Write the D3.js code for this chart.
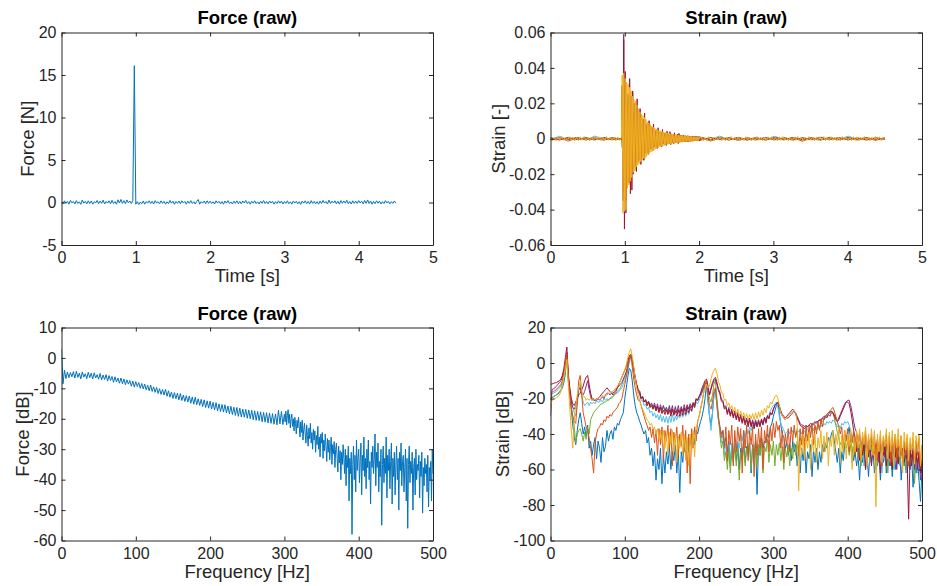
<!DOCTYPE html>
<html>
<head>
<meta charset="utf-8">
<script src="https://cdn.jsdelivr.net/npm/d3@7"></script>
<style>
body { margin: 0; background: #fff; }
text { font-family: "Liberation Sans", Arial, Helvetica, sans-serif; }
</style>
</head>
<body>
<div id="svg_container"></div>
<script>
/* -----------------------
main variables
------------------------- */

var width = 937;
var height = 586;
var axisColor = '#262626';
var tickLen = 4;

var panels = {
	forceTime:  {x: 61.5,  y: 32.5,  w: 371.5, h: 212.5, titleGap: 9},
	strainTime: {x: 550.5, y: 32.5,  w: 371.5, h: 212.5, titleGap: 9},
	forceSpec:  {x: 61.5,  y: 327.5, w: 371.5, h: 213,   titleGap: 7.5},
	strainSpec: {x: 550.5, y: 327.5, w: 371.5, h: 213,   titleGap: 7.5}
};

/* -----------------------
data : ticks
------------------------- */

var timeTicks = [0, 1, 2, 3, 4, 5];
var freqTicks = [0, 100, 200, 300, 400, 500];
var forceTicks = [-5, 0, 5, 10, 15, 20];
var strainTicks = [-0.06, -0.04, -0.02, 0, 0.02, 0.04, 0.06];
var forceDbTicks = [-60, -50, -40, -30, -20, -10, 0, 10];
var strainDbTicks = [-100, -80, -60, -40, -20, 0, 20];

/* -----------------------
data : force, time domain (step 0.02 s)
------------------------- */

var forceTimeStep = 0.02;
var forceTime = [
	0.1, -0.15, 0.2, -0.1, 0.15, -0.2, 0.25, -0.05, 0.12, -0.18,
	0.22, -0.1, 0.08, -0.22, 0.3, -0.08, 0.14, -0.16, 0.2, -0.12,
	0.18, -0.2, 0.1, -0.05, 0.24, -0.14, 0.16, -0.1, 0.28, -0.18,
	0.12, -0.08, 0.2, -0.16, 0.26, -0.12, 0.1, -0.2, 0.32, -0.06,
	0.36, -0.1, 0.22, -0.14, 0.3, -0.04, 0.18, -0.12, 0.25, 16.1,
	-0.2, 0.1, -0.25, 0.05, -0.15, 0.18, -0.2, 0.12, -0.08, 0.2,
	-0.12, 0.15, -0.18, 0.22, -0.06, 0.1, -0.16, 0.2, -0.1, 0.14,
	-0.2, 0.08, -0.14, 0.24, -0.08, 0.16, -0.22, 0.12, -0.1, 0.18,
	-0.15, 0.2, -0.06, 0.12, -0.2, 0.16, -0.1, 0.22, -0.12, 0.1,
	-0.18, 0.14, 0.35, -0.2, 0.1, -0.08, 0.18, -0.14, 0.2, -0.1,
	0.16, -0.12, 0.08, -0.18, 0.2, -0.06, 0.14, -0.16, 0.1, -0.2,
	0.18, -0.08, 0.22, -0.12, 0.06, -0.18, 0.16, -0.1, 0.2, -0.14,
	0.12, -0.16, 0.18, -0.06, 0.24, -0.12, 0.1, -0.2, 0.14, -0.08,
	0.2, -0.14, 0.08, -0.18, 0.16, -0.1, 0.22, -0.12, 0.12, -0.16,
	0.18, -0.06, 0.14, -0.2, 0.1, -0.12, 0.2, -0.08, 0.16, -0.18,
	0.12, -0.1, 0.2, -0.14, 0.08, -0.2, 0.18, -0.06, 0.14, -0.16,
	0.1, -0.22, 0.16, -0.08, 0.2, -0.12, 0.12, -0.18, 0.22, -0.1,
	0.14, -0.16, 0.1, -0.2, 0.18, -0.12, 0.24, -0.08, 0.12, -0.18,
	0.28, -0.12, 0.16, -0.06, 0.2, -0.16, 0.14, -0.2, 0.22, -0.1,
	0.18, -0.08, 0.26, -0.14, 0.12, -0.18, 0.2, -0.1, 0.16, -0.12,
	0.22, -0.06, 0.14, -0.16, 0.24, -0.1, 0.3, -0.12, 0.18, -0.2,
	0.12, -0.14, 0.2, -0.08, 0.16, -0.18, 0.1, -0.12, 0.22, -0.06,
	0.14, -0.16, 0.1, -0.1, 0.18, -0.08
];

/* -----------------------
data : force spectrum in dB
0 - 300 Hz every 2 Hz, 300 - 500 Hz every 1 Hz
------------------------- */

var forceSpecLow = [
	3, -8.5, -4, -6.8, -4.6, -6.5, -4.8, -6.2, -4.5, -6.6,
	-4.4, -6.4, -5, -6.9, -4.6, -6.3, -5.2, -6.8, -4.7, -6.5,
	-5, -6.9, -4.9, -6.6, -5.5, -7, -5.1, -7.2, -5.6, -7.1,
	-5.5, -7.6, -5.8, -7.4, -6.1, -8, -6.2, -7.9, -6.6, -8.3,
	-6.6, -8.5, -6.9, -8.8, -7.2, -8.6, -7.4, -9.3, -7.6, -9.6,
	-7.8, -9.4, -8.1, -10, -8.4, -10.2, -8.6, -10.5, -9, -10.8,
	-8.9, -11, -9.5, -11.3, -9.7, -11.7, -10.1, -12, -10.4, -12.2,
	-10.3, -12.6, -10.8, -12.9, -11.2, -13.3, -11.4, -13.4, -11.6, -13.8,
	-11.7, -14, -12.2, -14.3, -12.4, -14.5, -12.5, -14.9, -12.8, -15.2,
	-12.9, -15.4, -13.4, -15.6, -13.6, -16, -13.8, -16.3, -14.1, -16.5,
	-14.2, -16.8, -14.6, -17.1, -14.7, -17.4, -15.1, -17.6, -15.3, -17.8,
	-15.4, -18.1, -15.8, -18.4, -15.9, -18.6, -16.2, -18.9, -16.3, -19.2,
	-16.5, -19.4, -16.8, -19.5, -16.9, -19.8, -17.1, -20, -17.2, -20.3,
	-17.4, -20.5, -17.6, -20.6, -17.7, -21, -17.9, -21.1, -18, -21.4,
	-18.1, -21.5, -18.3, -21.8, -18.4, -22, -17.2, -21.7, -17.6, -21.9,
	-18.5
];
var forceSpecHigh = [
	-18.5, -21, -17.5, -22, -19, -17, -21.5, -18.5, -23, -20,
	-18.5, -22.5, -20, -24, -19.5, -21.5, -25, -20.5, -23, -19.5,
	-22.5, -26, -21, -24.5, -20.5, -27, -23.5, -21.5, -25, -28,
	-22, -25.5, -29, -23, -26.5, -21.5, -28, -24.5, -30, -23.5,
	-27, -24, -31, -25.5, -28.5, -22.5, -30, -26, -32.5, -25,
	-28, -24.5, -33, -27, -30.5, -25, -29, -34, -26.5, -31,
	-27, -33.5, -29.5, -26, -35, -28.5, -31.5, -27.5, -36, -30,
	-28, -33, -37.5, -29, -34.5, -30.5, -40, -31, -35, -28.5,
	-33, -38, -30, -42, -32, -36, -29, -47, -33, -38,
	-31, -58, -35, -29, -40, -32, -44, -27, -37, -33,
	-30, -41, -34, -28, -45, -32, -37, -26, -39, -33,
	-43, -30, -36, -27, -40, -34, -48, -31, -36, -29,
	-38, -33, -25, -42, -31, -36, -28, -44, -34, -39,
	-30, -55, -35, -29, -41, -33, -38, -26, -46, -32,
	-37, -30, -43, -34, -28, -48, -33, -39, -31, -45,
	-35, -29, -40, -33, -50, -31, -37, -28, -42, -34,
	-32, -44, -36, -30, -47, -33, -56, -35, -29, -41,
	-34, -38, -31, -50, -36, -33, -45, -30, -40, -35,
	-37, -32, -46, -34, -39, -31, -51, -36, -42, -33,
	-38, -35, -44, -32, -49, -36, -40, -34, -47, -30,
	-38
];

/* -----------------------
data : strain, time domain
before impact (0 - 0.955 s), ringing (0.965 - 2 s), after (2.03 - 4.5 s)
------------------------- */

var blueBefore = [0.0005, -0.0004, 0.0006, -0.0005, 0.0003, -0.0006, 0.0005, -0.0004, 0.0002];
var blueRing = [0.025, -0.03, 0.022, -0.02, 0.018, -0.016, 0.014, -0.012, 0.011, -0.009, 0.008, -0.007, 0.0065, -0.0055, 0.005, -0.0045, 0.004, -0.0035, 0.0032, -0.003, 0.0028, -0.0026, 0.0024, -0.0022, 0.002, -0.0019, 0.0018, -0.0017, 0.0016, -0.0015, 0.0014, -0.0013, 0.0012, -0.0011, 0.001];
var blueAfter = [0.0006, -0.0005, 0.0004, -0.0007, 0.0005, -0.0004, 0.0005, -0.0006, 0.0004, -0.0005, 0.0007, -0.0004, 0.0005, -0.0006, 0.0003, -0.0005, 0.0006, -0.0004, 0.0005, -0.0005, 0.0003];

var lightblueBefore = [-0.0005, 0.0014, -0.0006, 0.0005, -0.0007, 0.0015, -0.0004, 0.0006, -0.0003];
var lightblueRing = [0.02, -0.025, 0.02, -0.018, 0.016, -0.014, 0.012, -0.011, 0.01, -0.008, 0.007, -0.0065, 0.006, -0.005, 0.0045, -0.004, 0.0036, -0.0033, 0.003, -0.0028, 0.0026, -0.0024, 0.0022, -0.0021, 0.002, -0.0018, 0.0017, -0.0016, 0.0015, -0.0014, 0.0013, -0.0012, 0.0012, -0.0011, 0.001];
var lightblueAfter = [0.0006, -0.0005, 0.0015, -0.0004, 0.0006, -0.0007, 0.0005, -0.0005, 0.0014, -0.0006, 0.0005, -0.0004, 0.0006, -0.0007, 0.0005, -0.0005, 0.0015, -0.0004, 0.0006, -0.0006, 0.0004];

var greenBefore = [0.0004, -0.0005, 0.0004, -0.0003, 0.0006, -0.0005, 0.0003, -0.0004, -0.0002];
var greenRing = [-0.005, 0.028, -0.026, 0.021, -0.018, 0.015, -0.013, 0.011, -0.01, 0.0085, -0.0075, 0.0065, -0.006, 0.005, -0.0045, 0.004, -0.0036, 0.0032, -0.003, 0.0027, -0.0025, 0.0023, -0.0021, 0.002, -0.0019, 0.0018, -0.0017, 0.0016, -0.0015, 0.0014, -0.0013, 0.0012, -0.0012, 0.0011, -0.001];
var greenAfter = [-0.0005, 0.0006, -0.0004, 0.0006, -0.0005, 0.0004, -0.0007, 0.0005, -0.0004, 0.0006, -0.0006, 0.0004, -0.0005, 0.0006, -0.0004, 0.0005, -0.0005, 0.0004, -0.0006, 0.0005, -0.0003];

var purpleBefore = [0.0005, -0.0007, 0.0006, -0.0004, 0.0006, -0.0005, 0.0007, -0.0005, 0.0003];
var purpleRing = [
	0.03, -0.035, 0.059, -0.04, 0.03, -0.042, 0.025, -0.02, 0.022, -0.025,
	0.026, -0.026, 0.024, -0.02, 0.026, -0.02, 0.02, -0.016, 0.019, -0.018,
	0.018, -0.013, 0.013, -0.012, 0.014, -0.012, 0.011, -0.01, 0.011, -0.01,
	0.011, -0.008, 0.008, -0.007, 0.008, -0.007, 0.008, -0.006, 0.006, -0.0055,
	0.006, -0.0055, 0.0065, -0.0045, 0.0045, -0.004, 0.0045, -0.0042, 0.005, -0.0035,
	0.0035, -0.0032, 0.0034, -0.0034, 0.004, -0.003, 0.003, -0.0028, 0.003, -0.003,
	0.0033, -0.0025, 0.0025, -0.0024, 0.003, -0.0026, 0.0022, -0.0022, 0.0022, -0.0023,
	0.0027, -0.002, 0.002, -0.002, 0.0021, -0.002, 0.0023, -0.0018, 0.0018, -0.0017,
	0.0017, -0.0017, 0.0018, -0.0016, 0.0016, -0.0015, 0.0015, -0.0015, 0.0016, -0.0014,
	0.0014, -0.0014, 0.0014, -0.0013, 0.0014, -0.0013, 0.0013, -0.0012, 0.0012, -0.0012,
	0.0012, -0.0011, 0.0011, -0.001
];
var purpleAfter = [-0.0006, 0.0007, -0.0005, 0.0006, -0.0008, 0.0005, -0.0004, 0.0007, -0.0006, 0.0005, -0.0007, 0.0006, -0.0005, 0.0008, -0.0004, 0.0006, -0.0006, 0.0005, -0.0007, 0.0005, -0.0003];

var redBefore = [-0.0005, 0.0006, -0.0004, 0.0007, -0.0006, 0.0005, -0.0007, 0.0005, -0.0003];
var redRing = [
	0.02, -0.03, 0.056, -0.051, 0.038, -0.035, 0.02, -0.02, 0.025, -0.024,
	0.034, -0.031, 0.02, -0.029, 0.027, -0.015, 0.015, -0.014, 0.017, -0.0185,
	0.0225, -0.012, 0.012, -0.011, 0.017, -0.0145, 0.01, -0.009, 0.011, -0.0122,
	0.0145, -0.008, 0.008, -0.007, 0.0085, -0.0088, 0.0102, -0.006, 0.006, -0.0055,
	0.0065, -0.0068, 0.0082, -0.0045, 0.0045, -0.0042, 0.0048, -0.0055, 0.0062, -0.0035,
	0.0035, -0.0033, 0.0037, -0.0045, 0.0052, -0.003, 0.003, -0.0028, 0.0032, -0.0038,
	0.0043, -0.0025, 0.0025, -0.0024, 0.004, -0.0033, 0.0022, -0.0022, 0.0024, -0.003,
	0.0034, -0.002, 0.002, -0.002, 0.0025, -0.0027, 0.003, -0.0018, 0.0018, -0.0017,
	0.0017, -0.0017, 0.0019, -0.0016, 0.0016, -0.0015, 0.0015, -0.0016, 0.0017, -0.0015,
	0.0014, -0.0014, 0.0014, -0.0013, 0.0015, -0.0013, 0.0013, -0.0012, 0.0012, -0.0012,
	0.0013, -0.0011, 0.0011, -0.001
];
var redAfter = [0.0006, -0.0005, 0.0007, -0.0004, 0.0006, -0.0007, 0.0005, -0.0006, 0.0007, -0.0004, 0.0006, -0.0007, 0.0005, -0.0006, 0.0007, -0.0005, 0.0006, -0.0004, 0.0007, -0.0006, 0.0004];

var orangeBefore = [-0.0006, 0.0005, -0.0013, 0.0004, -0.0005, 0.0006, -0.0005, 0.0004, -0.0002];
var orangeRing = [0.03, -0.034, 0.026, -0.022, 0.02, -0.017, 0.015, -0.013, 0.012, -0.01, 0.009, -0.008, 0.007, -0.006, 0.0055, -0.005, 0.0045, -0.004, 0.0036, -0.0033, 0.003, -0.0027, 0.0025, -0.0023, 0.0021, -0.002, 0.0019, -0.0018, 0.0017, -0.0016, 0.0015, -0.0014, 0.0013, -0.0012, 0.0011];
var orangeAfter = [0.0005, -0.0013, 0.0005, -0.0006, 0.0007, -0.0004, 0.0006, -0.0007, 0.0005, -0.0006, 0.0005, -0.0014, 0.0006, -0.0005, 0.0007, -0.0006, 0.0004, -0.0007, 0.0005, -0.0008, 0.0003];

var yellowBefore = [
	0.0009, -0.0011, 0.0007, -0.0012, 0.001, -0.0008, 0.0013, -0.0009, 0.0008, -0.0011,
	0.0012, -0.0007, 0.001, -0.0012, 0.0009, -0.001, 0.0011, -0.0008, 0.0013, -0.0011,
	0.0008, -0.0012, 0.001, -0.0009, 0.0012, -0.0007, 0.0011, -0.0012, 0.0009, -0.001,
	0.0013, -0.0008, 0.001, -0.0011, 0.0008, -0.0012, 0.0011, -0.0009, 0.0005
];
var yellowRing = [
	0.036, -0.042, 0.037, -0.041, 0.034, -0.04, 0.032, -0.028, 0.031, -0.026,
	0.029, -0.024, 0.027, -0.022, 0.024, -0.019, 0.022, -0.018, 0.021, -0.016,
	0.019, -0.015, 0.017, -0.014, 0.015, -0.013, 0.014, -0.012, 0.013, -0.011,
	0.012, -0.011, 0.011, -0.01, 0.0095, -0.009, 0.0088, -0.0082, 0.008, -0.0075,
	0.0072, -0.007, 0.0066, -0.0064, 0.006, -0.0058, 0.0055, -0.0054, 0.0051, -0.005,
	0.0047, -0.0046, 0.0044, -0.0042, 0.0041, -0.004, 0.0038, -0.0037, 0.0036, -0.0034,
	0.0034, -0.0032, 0.0032, -0.003, 0.003, -0.0029, 0.0028, -0.0027, 0.0027, -0.0026,
	0.0025, -0.0024, 0.0024, -0.0023, 0.0023, -0.0022, 0.0021, -0.0021, 0.002, -0.002,
	0.0019, -0.0019, 0.0018, -0.0018, 0.0017, -0.0017, 0.0016, -0.0016, 0.0016, -0.0015,
	0.0015, -0.0015, 0.0014, -0.0014, 0.0014, -0.0013, 0.0013, -0.0013, 0.0012, -0.0012,
	0.0012, -0.0012, 0.0011, -0.0011, 0.001
];
var yellowAfter = [
	0.0009, -0.0012, 0.0008, -0.0011, 0.0012, -0.0008, 0.001, -0.0012, 0.0011, -0.0007,
	0.0012, -0.001, 0.0008, -0.0012, 0.001, -0.0009, 0.0013, -0.0008, 0.0009, -0.0011,
	0.0011, -0.0012, 0.0007, -0.001, 0.0012, -0.0009, 0.001, -0.0012, 0.0008, -0.0011,
	0.0013, -0.0008, 0.001, -0.0011, 0.0009, -0.0012, 0.0011, -0.0007, 0.0012, -0.001,
	0.0008, -0.0012, 0.0011, -0.0009, 0.0012, -0.0008, 0.001, -0.0011, 0.0009, -0.0012,
	0.0011, -0.0009, 0.0013, -0.001, 0.0008, -0.0012, 0.001, -0.0009, 0.0012, -0.0008,
	0.001, -0.0011, 0.0009, -0.0012, 0.0011, -0.0007, 0.0012, -0.001, 0.0008, -0.0011,
	0.0012, -0.0009, 0.001, -0.0012, 0.0009, -0.0011, 0.0013, -0.0008, 0.001, -0.0012,
	0.0008, -0.001, 0.0012, -0.0009, 0.0011, -0.0012, 0.0009, -0.0008, 0.0012, -0.0011,
	0.001, -0.0012, 0.0009, -0.001, 0.0012, -0.0008, 0.0011, -0.0011, 0.0009, -0.0004
];

/* -----------------------
data : strain spectra in dB, every 2 Hz from 0 to 500 Hz
------------------------- */

var specStep = 2;

var blueSpec = [
	-20, -19.5, -19, -18.5, -18, -17.5, -16.5, -15.5, -14, -11,
	-6, 5, -10, -18, -26, -35, -42, -46, -38, -32,
	-28, -34, -40, -36, -42, -35, -48, -44, -52, -46,
	-42, -54, -44, -48, -56, -42, -50, -47, -38, -44,
	-40, -38, -43, -36, -38, -34, -35, -32, -30, -28,
	-20, -14, -8, -3, -4, -10, -18, -24, -28, -30,
	-33, -35, -38, -40, -38, -45, -42, -52, -48, -58,
	-50, -66, -54, -60, -48, -68, -52, -62, -50, -57,
	-47, -60, -50, -55, -46, -62, -49, -73, -50, -56,
	-45, -52, -44, -50, -42, -48, -40, -46, -38, -40,
	-36, -33, -30, -26, -20, -12, -22, -30, -35, -28,
	-18, -15, -24, -32, -36, -40, -38, -46, -42, -50,
	-44, -58, -46, -52, -47, -55, -45, -60, -48, -52,
	-44, -56, -47, -50, -45, -62, -46, -52, -44, -74,
	-46, -52, -42, -48, -44, -45, -40, -42, -36, -34,
	-30, -27, -24, -22, -28, -35, -40, -42, -48, -45,
	-52, -46, -55, -44, -50, -46, -58, -47, -62, -48,
	-55, -47, -62, -50, -54, -46, -64, -49, -56, -48,
	-60, -50, -56, -46, -50, -45, -48, -42, -44, -40,
	-38, -44, -50, -56, -48, -62, -50, -55, -46, -42,
	-40, -36, -44, -48, -55, -50, -58, -52, -66, -50,
	-56, -48, -60, -52, -64, -50, -56, -48, -62, -52,
	-58, -50, -66, -52, -56, -48, -62, -54, -58, -50,
	-64, -52, -60, -50, -56, -49, -66, -53, -58, -51,
	-62, -54, -60, -52, -70, -55, -62, -54, -66, -78,
	-60
];
var lightblueSpec = [
	-18, -17.5, -17, -16.5, -16, -15, -14, -13, -11, -8,
	-4, 1, -8, -16, -22, -25, -28, -30, -24, -16,
	-12, -18, -22, -24, -23, -22, -24, -22, -23, -22,
	-23, -21, -22, -22, -21, -22, -20, -21, -20, -21,
	-20, -19, -19, -18, -17, -17, -16, -15, -14, -12,
	-10, -7, -4, 0, 3, 1, -4, -9, -13, -16,
	-18, -21, -21, -24, -23, -26, -25, -28, -27, -30,
	-28, -31, -29, -32, -29, -33, -30, -33.5, -30, -34,
	-30, -33.5, -29, -33, -30, -32, -29.5, -31, -28.5, -30.5,
	-28, -30, -27, -29, -26, -27.5, -24, -25, -22, -23,
	-21, -19, -17, -14, -11, -10, -20, -30, -38, -28,
	-18, -16, -24, -32, -38, -45, -40, -52, -44, -56,
	-46, -58, -45, -52, -42, -50, -44, -48, -40, -44,
	-38, -42, -37, -40, -36, -38, -35, -37, -34, -36,
	-34, -35, -33, -34, -32, -31, -30, -29, -27, -25,
	-24, -23, -22, -25, -30, -34, -36, -38, -40, -39,
	-38, -40, -37, -39, -38, -41, -37, -39, -38, -40,
	-37, -39, -38, -37, -39, -36, -38, -37, -36, -38,
	-36, -37, -35, -36, -34, -35, -33, -34, -33, -34,
	-32, -33, -34, -36, -35, -37, -34, -35, -33, -34,
	-33, -35, -38, -42, -40, -48, -44, -55, -46, -52,
	-45, -58, -47, -50, -46, -56, -48, -52, -46, -60,
	-48, -54, -47, -62, -50, -55, -48, -57, -46, -52,
	-48, -60, -50, -55, -47, -58, -49, -53, -46, -62,
	-50, -56, -48, -58, -51, -55, -47, -62, -52, -60,
	-55
];
var greenSpec = [
	-20, -19.5, -19, -18.5, -18, -17, -16, -15, -12, -9,
	-4, 2, -9, -16, -24, -30, -36, -45, -40, -38,
	-37, -40, -44, -39, -43, -36, -40, -32, -30, -28,
	-27, -26, -25, -24, -23, -23, -22, -22, -21, -21,
	-20, -20, -19, -18, -17, -16, -15, -14, -12, -10,
	-8, -5, -1, 3, 5, 2, -3, -8, -12, -15,
	-16, -19.5, -19, -22, -21, -24, -22, -25, -23, -26,
	-24, -27, -24.5, -27, -25, -28, -24, -27.5, -25, -28.5,
	-25, -28.5, -26, -28.5, -25.5, -28, -26, -28, -25, -27,
	-25, -27, -24, -26, -23, -25, -22, -24, -20.5, -21,
	-19, -17, -15, -13, -11, -10, -16, -20, -22, -18,
	-12, -10, -20, -30, -40, -48, -44, -55, -50, -60,
	-48, -62, -50, -56, -46, -58, -48, -66, -50, -55,
	-46, -58, -48, -52, -45, -60, -47, -54, -44, -58,
	-46, -52, -44, -62, -47, -50, -43, -56, -46, -52,
	-44, -58, -46, -52, -45, -55, -47, -60, -48, -53,
	-46, -58, -48, -54, -45, -52, -44, -50, -42, -46,
	-41, -44, -40, -42, -39, -40, -37, -38, -36, -37,
	-35, -36, -34, -33, -32, -31, -30, -29, -28, -27,
	-28, -31, -35, -39, -42, -46, -44, -50, -45, -48,
	-44, -52, -46, -56, -47, -50, -45, -54, -46, -58,
	-47, -52, -45, -58, -48, -54, -46, -50, -45, -60,
	-48, -53, -46, -56, -47, -52, -45, -62, -48, -54,
	-46, -58, -48, -52, -47, -56, -49, -54, -47, -60,
	-48, -55, -50, -58, -49, -68, -52, -56, -50, -58,
	-54
];
var purpleSpec = [
	-30, -15, -14.5, -14, -13, -12, -11, -10, -8, -5,
	-1, 6, -8, -16, -22, -25, -26, -24, -20, -15,
	-14, -17, -18, -16, -13, -10, -15, -19, -21, -20,
	-21, -21, -20, -21, -20, -19, -20, -18, -17, -17,
	-18, -17, -17, -16, -15, -14, -13, -12, -11, -9,
	-7, -5, -2, 2, 4, 1, -4, -9, -13, -16,
	-17, -20, -19, -22, -20.5, -22.5, -21.5, -24, -22.5, -25,
	-22.5, -26, -23, -27, -23.5, -26.5, -24, -27, -25, -27.5,
	-24, -28, -24, -28.5, -24.5, -28, -24, -28, -24.5, -27.5,
	-23.5, -27, -23.5, -26, -23, -25, -22.5, -23.5, -20, -21,
	-19, -18, -16, -14, -12, -11, -15, -18, -14, -11,
	-9, -8, -11, -14.5, -16.5, -20.5, -21, -25, -24, -28,
	-25, -29, -26, -30, -27, -31, -28, -32, -29, -33,
	-30, -33.5, -31, -34.5, -31, -35, -32, -35.5, -32, -35,
	-32, -35, -31.5, -34, -30.5, -33, -29.5, -31, -28, -29,
	-26, -24, -23, -22, -25, -28, -30, -31, -32, -31,
	-31, -30, -29, -28, -27, -28, -30, -32, -34, -35,
	-35, -36, -35, -36, -35, -34, -35, -34, -33, -34,
	-33, -32, -33, -31, -32, -30, -31, -29, -30, -28,
	-28, -29, -31, -33, -32, -30, -28, -26, -24, -22,
	-21, -21, -24, -28, -33, -37, -39, -45, -40, -50,
	-42, -48, -41, -54, -43, -47, -42, -52, -44, -49,
	-43, -56, -45, -50, -44, -53, -46, -49, -45, -58,
	-46, -52, -45, -60, -47, -51, -46, -55, -48, -52,
	-47, -57, -49, -53, -48, -60, -50, -56, -52, -66,
	-58
];
var redSpec = [
	-12, -11.8, -11.5, -11.2, -11, -10.5, -10, -9, -7, -3,
	3, 9, -6, -14, -20, -23, -24, -22, -20, -18,
	-17, -15, -13, -10, -8, -7, -12, -17, -20, -21,
	-21, -20, -20, -19, -18, -17, -16, -15, -14, -15,
	-16, -17, -18, -17, -16, -14, -12, -10, -8, -6,
	-4, -2, 1, 4, 5, 2, -3, -8, -12, -15,
	-16, -20, -19, -22, -21, -24, -22, -25, -24, -26,
	-24, -27, -24.5, -28, -25, -28.5, -26.5, -29, -26.5, -29,
	-26.5, -30, -26, -29.5, -27, -30, -26.5, -30, -26, -29.5,
	-25.5, -29, -25, -28, -24.5, -27, -23, -25, -20.5, -21,
	-19, -17, -14, -12, -10, -9, -13, -18, -15, -12,
	-10, -9, -12, -15.5, -17.5, -21.5, -22, -26, -25, -29,
	-26, -30, -27, -31, -28, -32, -29, -33, -30, -34,
	-31, -35, -32, -36, -32, -36, -33, -37, -33, -36,
	-33, -36, -32, -35, -31, -34, -30, -31.5, -28, -29,
	-26, -24, -23, -22, -24, -27, -29, -30, -31, -30,
	-29, -28, -27, -26, -27, -29, -31, -33, -35, -36,
	-36, -37, -36, -36, -35, -36, -34, -35, -34, -33,
	-33, -32, -32, -31, -30, -30, -29, -28, -28, -27,
	-28, -30, -32, -33, -31, -29, -27, -25, -23, -22,
	-22, -23, -27, -32, -38, -42, -50, -44, -55, -45,
	-52, -46, -60, -47, -53, -46, -58, -48, -51, -46,
	-55, -47, -62, -48, -52, -47, -58, -49, -54, -47,
	-60, -48, -53, -47, -57, -49, -52, -48, -56, -50,
	-55, -88, -50, -58, -49, -56, -51, -60, -50, -62,
	-55
];
var orangeSpec = [
	-17, -16.5, -16, -15.5, -15, -14, -13, -12, -10, -6,
	0, 5, -8, -18, -26, -30, -33, -34, -22, -10,
	-7, -18, -28, -32, -36, -38, -42, -48, -54, -62,
	-45, -40, -37, -36, -34, -35, -32, -33, -30, -31,
	-29, -30, -28, -27, -26, -25, -23, -22, -20, -16,
	-12, -8, -3, 3, 5, -2, -9, -14, -18, -21,
	-21, -24, -27, -30, -33, -35, -38, -36, -42, -37,
	-45, -38, -52, -37, -46, -36, -55, -38, -44, -35,
	-48, -37, -58, -39, -45, -36, -52, -40, -47, -35,
	-50, -38, -62, -40, -68, -37, -48, -36, -44, -33,
	-30, -26, -22, -17, -12, -10, -18, -24, -26, -22,
	-16, -14, -22, -30, -36, -42, -38, -48, -36, -55,
	-38, -46, -35, -58, -38, -50, -36, -44, -37, -62,
	-38, -48, -35, -55, -38, -46, -36, -64, -40, -52,
	-37, -48, -36, -60, -38, -45, -35, -50, -36, -44,
	-34, -42, -33, -38, -35, -48, -38, -56, -40, -46,
	-37, -50, -36, -44, -35, -42, -38, -52, -37, -46,
	-36, -48, -35, -44, -36, -42, -34, -46, -35, -40,
	-33, -38, -32, -36, -31, -30, -29, -28, -27, -26,
	-25, -27, -30, -33, -36, -40, -36, -48, -38, -44,
	-37, -50, -40, -45, -38, -52, -40, -47, -39, -54,
	-41, -46, -38, -56, -42, -48, -40, -52, -39, -55,
	-43, -50, -41, -58, -42, -47, -40, -53, -41, -56,
	-42, -49, -40, -55, -43, -50, -41, -57, -44, -52,
	-42, -58, -45, -50, -43, -55, -44, -52, -42, -58,
	-46
];
var yellowSpec = [
	-25, -21, -20.5, -20, -19.5, -19, -18, -16, -13, -8,
	-3, 2, -12, -26, -38, -48, -32, -24, -18, -14,
	-10, -15, -19, -19, -21, -20, -21, -20, -21, -20,
	-21, -20, -20, -19, -19, -18, -19, -18, -18, -17,
	-17, -16, -16, -15, -14, -13, -12, -10, -8, -6,
	-4, -1, 3, 6, 8, 4, -2, -8, -14, -18,
	-21, -24, -26, -28, -30, -32, -33, -35, -34, -37,
	-36, -40, -37, -43, -38, -45, -38, -48, -40, -52,
	-39, -46, -38, -50, -40, -56, -41, -48, -39, -52,
	-40, -55, -42, -58, -40, -50, -38, -53, -36, -34,
	-30, -26, -22, -17, -14, -12, -14, -13, -9, -6,
	-4, -3, -6, -10.5, -12.5, -16.5, -17, -21, -20.5, -24,
	-22.5, -26, -24, -27.5, -25, -29, -26, -30, -27, -31,
	-28, -31.5, -28.5, -32, -29, -31.5, -28.5, -32, -28, -31.5,
	-27.5, -30.5, -26.5, -29.5, -25.5, -28, -24, -25.5, -22, -23,
	-21, -19, -18, -20, -24, -28, -30, -31, -32, -31,
	-30, -29, -28, -27, -27, -28, -34, -72, -44, -52,
	-40, -55, -42, -48, -39, -60, -43, -50, -40, -56,
	-42, -48, -38, -54, -41, -50, -39, -58, -42, -47,
	-38, -52, -40, -46, -37, -56, -41, -49, -38, -54,
	-40, -47, -37, -60, -42, -50, -38, -48, -37, -55,
	-39, -46, -36, -58, -40, -49, -37, -52, -38, -81,
	-40, -50, -38, -56, -41, -47, -37, -54, -39, -50,
	-38, -58, -40, -48, -37, -53, -41, -62, -39, -49,
	-40, -55, -42, -50, -39, -57, -41, -48, -40, -58,
	-46
];

// drawing order: last one ends on top
var channels = [
	{color: '#0072BD', before: blueBefore, ring: blueRing, after: blueAfter, spec: blueSpec},
	{color: '#4DBEEE', before: lightblueBefore, ring: lightblueRing, after: lightblueAfter, spec: lightblueSpec},
	{color: '#77AC30', before: greenBefore, ring: greenRing, after: greenAfter, spec: greenSpec},
	{color: '#7E2F8E', before: purpleBefore, ring: purpleRing, after: purpleAfter, spec: purpleSpec},
	{color: '#A2142F', before: redBefore, ring: redRing, after: redAfter, spec: redSpec},
	{color: '#D95319', before: orangeBefore, ring: orangeRing, after: orangeAfter, spec: orangeSpec},
	{color: '#EDB120', before: yellowBefore, ring: yellowRing, after: yellowAfter, spec: yellowSpec}
];

/* -----------------------
set svg
------------------------- */

var svg = d3.select('#svg_container')
	.append('svg')
	.attr('width', width)
	.attr('height', height)
	.attr('viewBox', '0 0 ' + width + ' ' + height);

var clipCount = 0;

function makePanel(p, xDomain, yDomain, xTicks, yTicks, title, xLabel, yLabel) {
	var g = svg.append('g')
		.attr('transform', 'translate(' + p.x + ',' + p.y + ')');

	var x = d3.scaleLinear().domain(xDomain).range([0, p.w]);
	var y = d3.scaleLinear().domain(yDomain).range([p.h, 0]);

	clipCount++;
	g.append('clipPath')
		.attr('id', 'clip' + clipCount)
		.append('rect')
		.attr('width', p.w)
		.attr('height', p.h);

	var plot = g.append('g').attr('clip-path', 'url(#clip' + clipCount + ')');

	var fmt = function (d) { return String(d); };

	var bottom = g.append('g')
		.attr('transform', 'translate(0,' + p.h + ')')
		.call(d3.axisBottom(x).tickValues(xTicks).tickFormat(fmt)
			.tickSizeInner(-tickLen).tickSizeOuter(0).tickPadding(7));
	var top = g.append('g')
		.call(d3.axisTop(x).tickValues(xTicks).tickFormat('')
			.tickSizeInner(-tickLen).tickSizeOuter(0));
	var left = g.append('g')
		.call(d3.axisLeft(y).tickValues(yTicks).tickFormat(fmt)
			.tickSizeInner(-tickLen).tickSizeOuter(0).tickPadding(5));
	var right = g.append('g')
		.attr('transform', 'translate(' + p.w + ',0)')
		.call(d3.axisRight(y).tickValues(yTicks).tickFormat('')
			.tickSizeInner(-tickLen).tickSizeOuter(0));

	[bottom, top, left, right].forEach(function (a) {
		a.attr('font-size', 16).attr('font-family', null);
		a.selectAll('.domain, .tick line').attr('stroke', axisColor);
		a.selectAll('text').attr('fill', axisColor);
	});

	g.append('text')
		.attr('x', p.w / 2)
		.attr('y', -p.titleGap)
		.attr('text-anchor', 'middle')
		.attr('font-size', 18.5)
		.attr('font-weight', 'bold')
		.attr('fill', '#000')
		.text(title);

	g.append('text')
		.attr('x', p.w / 2)
		.attr('y', p.h + 37)
		.attr('text-anchor', 'middle')
		.attr('font-size', 18.5)
		.attr('fill', axisColor)
		.text(xLabel);

	var bb = left.node().getBBox();
	g.append('text')
		.attr('transform', 'translate(' + (bb.x - 4.5) + ',' + (p.h / 2) + ') rotate(-90)')
		.attr('text-anchor', 'middle')
		.attr('font-size', 18.5)
		.attr('fill', axisColor)
		.text(yLabel);

	return {plot: plot, x: x, y: y};
}

function drawLine(panel, points, color) {
	var line = d3.line()
		.x(function (d) { return panel.x(d[0]); })
		.y(function (d) { return panel.y(d[1]); });

	panel.plot.append('path')
		.datum(points)
		.attr('d', line)
		.attr('fill', 'none')
		.attr('stroke', color)
		.attr('stroke-width', 1)
		.attr('stroke-linejoin', 'round');
}

// spreads samples evenly over [t0, t1]
function segment(t0, t1, values) {
	var n = values.length;
	return values.map(function (v, i) {
		return [t0 + (t1 - t0) * i / (n - 1), v];
	});
}

/* -----------------------
visualization
------------------------- */

var pForceTime = makePanel(panels.forceTime, [0, 5], [-5, 20], timeTicks, forceTicks,
	'Force (raw)', 'Time [s]', 'Force [N]');
drawLine(pForceTime, forceTime.map(function (v, i) { return [i * forceTimeStep, v]; }), '#0072BD');

var pStrainTime = makePanel(panels.strainTime, [0, 5], [-0.06, 0.06], timeTicks, strainTicks,
	'Strain (raw)', 'Time [s]', 'Strain [-]');
channels.forEach(function (c) {
	var pts = segment(0, 0.955, c.before)
		.concat(segment(0.965, 2.0, c.ring))
		.concat(segment(2.03, 4.5, c.after));
	drawLine(pStrainTime, pts, c.color);
});

var pForceSpec = makePanel(panels.forceSpec, [0, 500], [-60, 10], freqTicks, forceDbTicks,
	'Force (raw)', 'Frequency [Hz]', 'Force [dB]');
drawLine(pForceSpec, segment(0, 300, forceSpecLow).concat(segment(301, 500, forceSpecHigh.slice(1))), '#0072BD');

var pStrainSpec = makePanel(panels.strainSpec, [0, 500], [-100, 20], freqTicks, strainDbTicks,
	'Strain (raw)', 'Frequency [Hz]', 'Strain [dB]');
channels.forEach(function (c) {
	drawLine(pStrainSpec, c.spec.map(function (v, i) { return [i * specStep, v]; }), c.color);
});
</script>
</body>
</html>
